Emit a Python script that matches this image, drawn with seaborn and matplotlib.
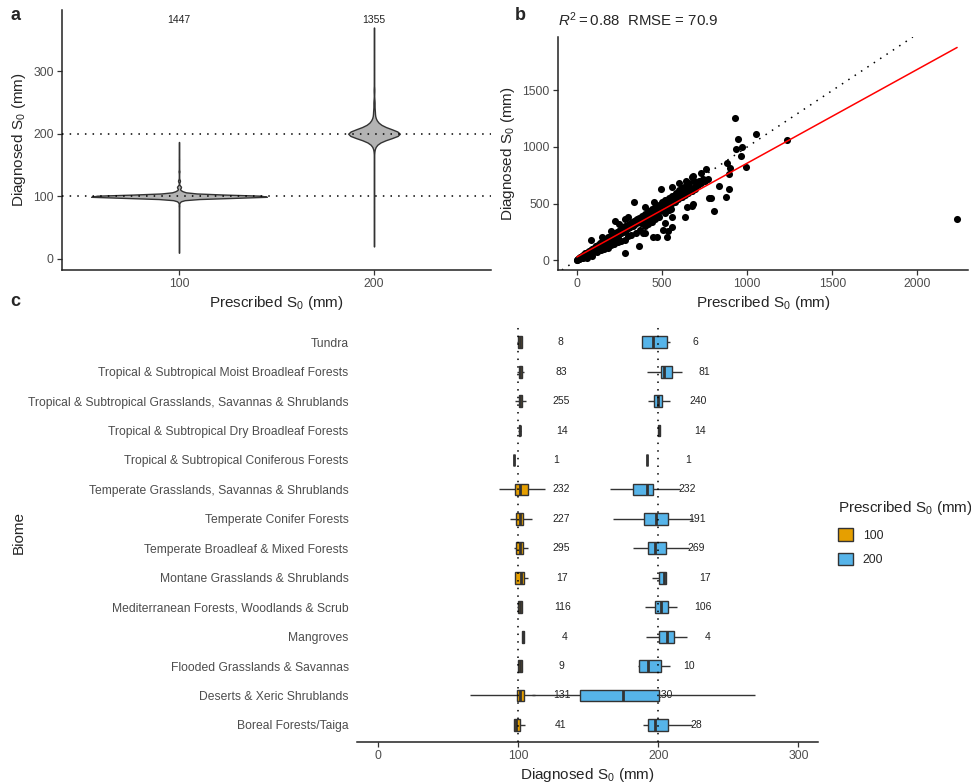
import numpy as np
import pandas as pd
import matplotlib
matplotlib.use("Agg")
import matplotlib.pyplot as plt
import seaborn as sns

# ---------------- Panel a data (violin: value / count estimates) ----------------
groups_a = ["100", "200"]
vio_values_100 = [10, 30, 50, 70, 85, 92, 95, 97, 98, 99, 100, 101, 102, 103, 105, 108, 115, 125, 140, 160, 187]
vio_counts_100 = [1, 1, 1, 2, 4, 10, 20, 40, 90, 230, 531, 230, 110, 60, 40, 30, 25, 12, 6, 3, 1]
vio_values_200 = [20, 50, 80, 120, 155, 170, 180, 185, 190, 194, 197, 200, 203, 206, 210, 215, 222,
                  235, 250, 270, 300, 330, 370]
vio_counts_200 = [1, 1, 2, 3, 4, 5, 15, 30, 70, 140, 200, 287, 200, 140, 90, 60, 40, 25, 18, 12, 6, 4, 2]
vio_n_labels = ["1447", "1355"]

# ---------------- Panel b data (prescribed vs diagnosed) ----------------
pts_b = [
    (0, 0), (3, 2), (6, 10), (10, 5), (12, 18), (15, 12), (18, 25), (20, 15), (22, 30), (25, 20),
    (28, 35), (30, 25), (33, 40), (35, 22), (38, 45), (40, 35), (45, 52), (48, 40), (50, 60), (55, 45),
    (58, 65), (60, 50), (65, 72), (70, 55), (72, 80), (75, 65), (80, 88), (85, 70), (88, 95), (90, 60),
    (95, 100), (100, 85), (100, 110), (105, 95), (110, 120), (112, 100), (115, 125), (120, 105), (125, 135),
    (130, 110), (135, 150), (140, 120), (145, 160), (150, 130), (150, 100), (155, 170), (160, 140),
    (165, 175), (170, 150), (175, 185), (180, 160), (185, 200), (190, 165), (195, 205), (200, 180),
    (205, 215), (210, 190), (215, 225), (220, 195), (225, 235), (230, 210), (235, 245), (240, 215),
    (245, 255), (250, 230), (255, 265), (260, 240), (265, 275), (270, 250), (275, 285), (280, 255),
    (285, 300), (290, 265), (295, 305), (300, 280), (305, 315), (310, 290), (315, 325), (320, 300),
    (325, 335), (330, 305), (335, 345), (340, 320), (345, 355), (350, 330), (355, 365), (360, 340),
    (365, 375), (370, 345), (380, 390), (390, 365), (400, 410), (410, 385), (420, 430), (430, 400),
    (440, 450), (450, 420), (460, 470), (470, 440), (480, 490), (490, 460), (500, 510), (510, 480),
    (520, 530), (530, 500), (540, 550), (550, 520), (560, 570), (570, 540), (580, 590), (590, 560),
    (600, 620), (610, 580), (620, 640), (630, 600), (640, 660), (650, 620), (660, 680), (670, 640),
    (690, 700), (700, 660), (720, 700), (740, 720),
    (8, 12), (16, 20), (24, 18), (32, 30), (42, 38), (52, 48), (62, 58), (68, 62), (78, 70), (92, 85),
    (102, 92), (108, 105), (118, 110), (128, 120), (138, 128), (148, 140), (158, 150), (168, 160),
    (178, 170), (188, 178), (198, 190), (208, 200), (218, 208), (228, 218), (238, 228), (248, 238),
    (258, 245), (268, 258), (278, 265), (288, 278), (298, 285), (308, 295), (318, 305), (328, 315),
    (338, 325), (348, 335), (358, 345), (375, 330), (385, 350), (395, 340), (405, 370), (415, 360),
    (425, 390), (435, 380), (445, 410), (455, 400), (465, 430), (475, 420), (485, 450), (495, 440),
    (505, 470), (515, 460), (525, 490), (535, 480), (545, 505), (555, 500), (565, 520), (575, 515),
    (585, 545), (595, 540), (605, 560), (615, 555), (625, 580), (635, 575), (645, 600), (655, 595),
    (665, 620), (675, 610), (685, 640), (695, 630), (710, 660), (730, 680), (750, 700), (770, 720),
    (60, 20), (90, 40), (120, 70), (140, 90), (160, 100), (180, 110), (200, 130), (220, 140),
    (240, 160), (260, 170), (280, 180), (300, 210), (320, 220), (350, 240), (370, 270), (400, 300),
    (420, 320), (440, 340), (460, 360), (480, 380), (520, 420), (540, 440),
    (82, 177), (150, 200), (200, 260), (222, 348), (250, 320), (280, 360), (338, 516), (300, 380),
    (400, 470), (450, 510), (494, 625), (560, 650), (600, 680), (640, 700), (680, 740),
    (931, 1254), (1053, 1115), (947, 1071), (1234, 1062), (937, 982), (970, 997), (962, 923),
    (880, 855), (898, 811), (993, 826), (892, 758), (760, 805), (727, 773), (678, 737), (834, 658),
    (892, 625), (873, 560), (776, 546), (785, 546), (684, 496), (678, 481), (805, 431), (645, 466),
    (636, 381), (552, 451), (556, 381), (533, 260), (529, 201), (503, 265), (468, 201), (445, 201),
    (398, 236), (387, 236), (367, 124), (280, 59), (2233, 363), (517, 324), (558, 295),
]
prescribed_b = [p[0] for p in pts_b]
diagnosed_b = [p[1] for p in pts_b]
# linear fit (intercept, slope)
fit_intercept = 27.0
fit_slope = 0.83
title_b = r"$R^2 = 0.88$  RMSE = 70.9"

# ---------------- Panel c data (five-number summaries per biome) ----------------
biomes = [
    "Tundra",
    "Tropical & Subtropical Moist Broadleaf Forests",
    "Tropical & Subtropical Grasslands, Savannas & Shrublands",
    "Tropical & Subtropical Dry Broadleaf Forests",
    "Tropical & Subtropical Coniferous Forests",
    "Temperate Grasslands, Savannas & Shrublands",
    "Temperate Conifer Forests",
    "Temperate Broadleaf & Mixed Forests",
    "Montane Grasslands & Shrublands",
    "Mediterranean Forests, Woodlands & Scrub",
    "Mangroves",
    "Flooded Grasslands & Savannas",
    "Deserts & Xeric Shrublands",
    "Boreal Forests/Taiga",
]
box_100 = [
    (99.5, 100, 101, 102.5, 103),
    (99.5, 100.5, 101.5, 103, 104.3),
    (98, 100.5, 101.5, 103, 105.5),
    (100.2, 100.4, 101, 101.6, 102),
    (97, 97, 97, 97, 97),
    (86, 98, 101, 107, 119),
    (94, 98.5, 101.5, 103.8, 109.8),
    (96.7, 98.8, 101, 103.4, 107),
    (98, 98, 102, 104.5, 107),
    (99.3, 100, 101, 102.4, 103.1),
    (103, 103, 103.5, 104, 104),
    (99.8, 100, 101, 102.5, 103),
    (66, 99, 101.5, 104.5, 112),
    (97, 97.2, 98.5, 101.4, 105),
]
box_200 = [
    (188.6, 188.6, 196.2, 206, 208.2),
    (191.9, 201.7, 204, 209.8, 216.7),
    (193, 197.3, 200, 202.4, 208.6),
    (199.5, 199.8, 200.4, 201, 201.4),
    (192.3, 192.3, 192.3, 192.3, 192.3),
    (165.6, 182, 191.7, 195.9, 215.5),
    (168, 189.6, 198.7, 207, 224.5),
    (181.8, 192.6, 197.9, 205.2, 222.2),
    (195.6, 200.6, 204, 205.2, 205.2),
    (190.4, 197.6, 202, 206.7, 213.3),
    (191.6, 200.6, 206.2, 211.4, 220.5),
    (185.2, 186.2, 192.4, 202, 208.7),
    (110, 143.8, 174.9, 200.5, 269),
    (189, 193, 197.5, 207, 224.1),
]
n_100 = ["8", "83", "255", "14", "1", "232", "227", "295", "17", "116", "4", "9", "131", "41"]
n_200 = ["6", "81", "240", "14", "1", "232", "191", "269", "17", "106", "4", "10", "130", "28"]
lab_x_100 = [130, 131, 131, 131, 127, 131, 130.5, 131, 131.5, 131.5, 133, 131, 131, 130]
lab_x_200 = [226.4, 233, 228.8, 229.8, 221.2, 220.5, 228, 227.4, 233.4, 231.9, 235, 221.9, 204, 226.9]

col_100 = "#E69F00"
col_200 = "#56B4E9"

# ---------------- style ----------------
sns.set_style("ticks")
plt.rcParams["font.family"] = ["Liberation Sans", "DejaVu Sans"]
plt.rcParams["mathtext.fontset"] = "custom"
plt.rcParams["mathtext.rm"] = "Liberation Sans"
plt.rcParams["mathtext.it"] = "Liberation Sans:italic"
plt.rcParams["mathtext.bf"] = "Liberation Sans:bold"

W, H = 971, 783
fig = plt.figure(figsize=(W / 100, H / 100), dpi=100)


def px_axes(l, t, r, b):
    return fig.add_axes([l / W, 1 - b / H, (r - l) / W, (b - t) / H])


TICK_COL = "#4D4D4D"
LINE_COL = "#222222"


def style_axis(ax, left=True):
    for s in ["top", "right"]:
        ax.spines[s].set_visible(False)
    ax.spines["bottom"].set_linewidth(1.1)
    ax.spines["bottom"].set_color(LINE_COL)
    ax.spines["left"].set_linewidth(1.1)
    ax.spines["left"].set_color(LINE_COL)
    if not left:
        ax.spines["left"].set_visible(False)
    ax.tick_params(direction="out", length=3.5, width=0.9, color="#333333",
                   labelsize=8.8, labelcolor=TICK_COL, pad=2.5)


# ---------------- Panel a ----------------
ax_a = px_axes(62, 10, 491, 270)
df_a = pd.DataFrame({
    "prescribed": ["100"] * sum(vio_counts_100) + ["200"] * sum(vio_counts_200),
    "diagnosed": np.concatenate([np.repeat(vio_values_100, vio_counts_100),
                                 np.repeat(vio_values_200, vio_counts_200)]).astype(float),
})
sns.violinplot(data=df_a, x="prescribed", y="diagnosed", order=groups_a, color="#B3B3B3",
               linecolor="#333333", linewidth=1.0, cut=0, width=0.9, density_norm="area",
               inner=None, saturation=1, bw_adjust=1.3, ax=ax_a)
for yv in (100, 200):
    ax_a.axhline(yv, color="black", linestyle=(0, (1, 4)), linewidth=1.1, zorder=5)
for i, lab in enumerate(vio_n_labels):
    ax_a.text(i, 382, lab, ha="center", va="center", fontsize=7.5, color="#222222")
ax_a.set_xlim(-0.6, 1.6)
ax_a.set_ylim(-17.6, 398)
ax_a.set_yticks([0, 100, 200, 300])
ax_a.set_xlabel(r"Prescribed S$_0$ (mm)", fontsize=11, labelpad=3)
ax_a.set_ylabel(r"Diagnosed S$_0$ (mm)", fontsize=11, labelpad=4)
style_axis(ax_a)

# ---------------- Panel b ----------------
ax_b = px_axes(558, 37, 968, 270)
sns.scatterplot(x=prescribed_b, y=diagnosed_b, color="black", s=26, linewidth=0, ax=ax_b, zorder=3)
ax_b.axline((0, 0), slope=1, color="black", linestyle=(0, (1, 4)), linewidth=1.1, zorder=2)
fit_x = np.array([min(prescribed_b), max(prescribed_b)], dtype=float)
sns.lineplot(x=fit_x, y=fit_intercept + fit_slope * fit_x, color="red", linewidth=1.1,
             ax=ax_b, zorder=4)
ax_b.set_xlim(-111, 2297)
ax_b.set_ylim(-88, 1973)
ax_b.set_xticks([0, 500, 1000, 1500, 2000])
ax_b.set_yticks([0, 500, 1000, 1500])
ax_b.set_xlabel(r"Prescribed S$_0$ (mm)", fontsize=11, labelpad=3)
ax_b.set_ylabel(r"Diagnosed S$_0$ (mm)", fontsize=11, labelpad=4)
style_axis(ax_b)
fig.text(558 / W, 1 - 20 / H, title_b, fontsize=10.8, ha="left", va="center")

# ---------------- Panel c ----------------
ax_c = px_axes(357, 324, 818, 742)
rows = []
for b, s1, s2 in zip(biomes, box_100, box_200):
    for v in s1:
        rows.append((b, "100", v))
    for v in s2:
        rows.append((b, "200", v))
df_c = pd.DataFrame(rows, columns=["biome", "group", "value"])
sns.boxplot(data=df_c, x="value", y="biome", hue="group", order=biomes, hue_order=["100", "200"],
            palette={"100": col_100, "200": col_200}, dodge=False, width=0.4, whis=np.inf,
            showfliers=False, saturation=1, linecolor="#333333", linewidth=1.0,
            medianprops=dict(color="#333333", linewidth=2.0),
            capprops=dict(linewidth=0), ax=ax_c)
for x in (100, 200):
    ax_c.axvline(x, color="black", linestyle=(0, (1, 4)), linewidth=1.1, zorder=6)
for i in range(len(biomes)):
    ax_c.text(lab_x_100[i], i, n_100[i], ha="center", va="center", fontsize=7.5, color="#222222", zorder=0.5)
    ax_c.text(lab_x_200[i], i, n_200[i], ha="center", va="center", fontsize=7.5, color="#222222", zorder=0.5)
ax_c.set_xlim(-15, 314)
ax_c.set_ylim(len(biomes) - 0.42, -0.62)
ax_c.set_xticks([0, 100, 200, 300])
ax_c.set_xlabel(r"Diagnosed S$_0$ (mm)", fontsize=11, labelpad=3)
ax_c.set_ylabel("Biome", fontsize=11, labelpad=2)
style_axis(ax_c, left=False)
ax_c.tick_params(axis="y", length=0, pad=6, labelsize=8.7)
sns.move_legend(ax_c, "upper left", bbox_to_anchor=(1.02, 0.607), frameon=False,
                title=r"Prescribed S$_0$ (mm)", title_fontsize=11, fontsize=8.8,
                labelspacing=0.9, handlelength=1.2, handleheight=1.2, alignment="left")

# panel tags
fig.text(15 / W, 1 - 15 / H, "a", fontsize=13, fontweight="bold", ha="center", va="center")
fig.text(520 / W, 1 - 15 / H, "b", fontsize=13, fontweight="bold", ha="center", va="center")
fig.text(15 / W, 1 - 302 / H, "c", fontsize=13, fontweight="bold", ha="center", va="center")

fig.savefig("out.png", dpi=100)
